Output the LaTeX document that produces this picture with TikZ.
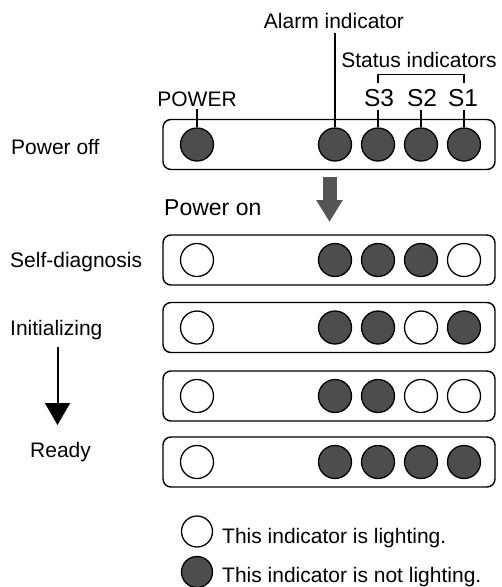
\documentclass[tikz,border=0pt]{standalone}
\usepackage{fontspec}
\setmainfont{Liberation Sans}
\usetikzlibrary{arrows.meta}
\definecolor{ledoff}{HTML}{4D4D4D}
\definecolor{arrowgray}{HTML}{555555}
\begin{document}
\begin{tikzpicture}[x=1pt,y=-1pt,
  every node/.style={font=\fontsize{21}{25}\selectfont, inner sep=0pt},
  panel/.style={draw=black, line width=1.4pt, rounded corners=8pt},
  ledon/.style={circle, draw=black, line width=1.3pt, fill=white, minimum size=33pt},
  ledoffst/.style={circle, draw=black, line width=1.3pt, fill=ledoff, minimum size=33pt},
  leader/.style={line width=1.2pt},
  lbl/.style={anchor=base west},
  toplbl/.style={anchor=base},
  slbl/.style={anchor=base, font=\fontsize{24.5}{28}\selectfont}]
\clip (0,0) rectangle (502,587);
\fill[white] (0,0) rectangle (502,587);

% panels
\foreach \n/\yc in {1/144.5,2/260,3/327.5,4/396,5/462}{
  \draw[panel] (163,\yc-25) rectangle (495,\yc+25);
}

% row 1: power off
\node[ledoffst] (p1) at (197,144.5) {};
\node[ledoffst] (a1) at (335,144.5) {};
\node[ledoffst] (s31) at (378,144.5) {};
\node[ledoffst] (s21) at (421,144.5) {};
\node[ledoffst] (s11) at (464,144.5) {};
% row 2: self-diagnosis
\node[ledon] (p2) at (197,260) {};
\node[ledoffst] (a2) at (335,260) {};
\node[ledoffst] (s32) at (378,260) {};
\node[ledoffst] (s22) at (421,260) {};
\node[ledon] (s12) at (464,260) {};
% row 3
\node[ledon] (p3) at (197,327.5) {};
\node[ledoffst] (a3) at (335,327.5) {};
\node[ledoffst] (s33) at (378,327.5) {};
\node[ledon] (s23) at (421,327.5) {};
\node[ledoffst] (s13) at (464,327.5) {};
% row 4
\node[ledon] (p4) at (197,396) {};
\node[ledoffst] (a4) at (335,396) {};
\node[ledoffst] (s34) at (378,396) {};
\node[ledon] (s24) at (421,396) {};
\node[ledon] (s14) at (464,396) {};
% row 5
\node[ledon] (p5) at (197,462) {};
\node[ledoffst] (a5) at (335,462) {};
\node[ledoffst] (s35) at (378,462) {};
\node[ledoffst] (s25) at (421,462) {};
\node[ledoffst] (s15) at (464,462) {};

% top labels
\node[toplbl] (powl) at (197,106.5) {POWER};
\node[toplbl] (alarml) at (334,28) {Alarm indicator};
\node[toplbl] (statl) at (419,67) {Status indicators};
\node[slbl] (s3l) at (379,106.5) {S3};
\node[slbl] (s2l) at (422,106.5) {S2};
\node[slbl] (s1l) at (463,106.5) {S1};

\draw[leader] (197,109) -- (p1.north);
\draw[leader] (a1.north) -- (335,33);
\draw[leader] (378,110) -- (s31.north);
\draw[leader] (421,110) -- (s21.north);
\draw[leader] (464,110) -- (s11.north);
\draw[leader] (378,83) -- (378,74.5) -- (464,74.5) -- (464,83);

% power on arrow
\coordinate (gtop) at (329.5,177);
\coordinate (gtip) at (329.5,222);
\draw[arrowgray, line width=14pt, -{Triangle[width=25pt,length=22pt]}] (gtop) -- (gtip);
\node[lbl, font=\fontsize{23}{27}\selectfont] (pon) at (164,215) {Power on};

% left labels
\node[lbl] (offl) at (11,154) {Power off};
\node[lbl] (sdl) at (10,267) {Self-diagnosis};
\node[lbl] (initl) at (10,335) {Initializing};
\node[lbl] (readyl) at (30,457) {Ready};
\coordinate (btop) at (57.5,347);
\coordinate (btip) at (57.5,425);
\draw[black, line width=2pt, -{Triangle[width=25pt,length=22pt]}] (btop) -- (btip);

% legend
\node[ledon, minimum size=31pt] (lgon) at (197,531.5) {};
\node[ledoffst, minimum size=31pt] (lgoff) at (197,572) {};
\node[lbl] (lgont) at (222,543) {This indicator is lighting.};
\node[lbl] (lgofft) at (222,582) {This indicator is not lighting.};
\end{tikzpicture}
\end{document}
